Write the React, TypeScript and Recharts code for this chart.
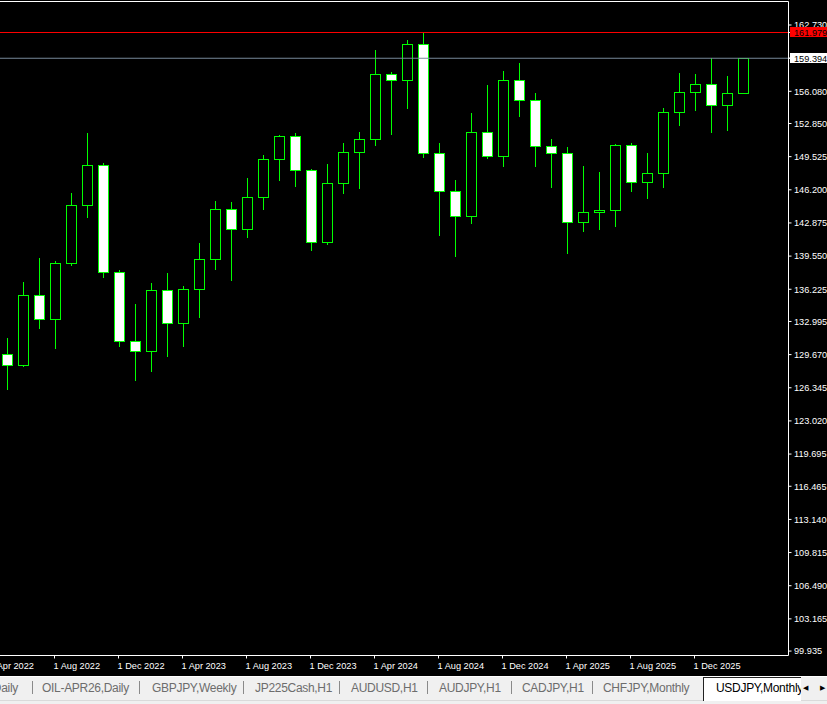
import React from 'react';
import { ComposedChart, Bar, XAxis, YAxis, ReferenceLine } from 'recharts';

// Monthly USDJPY candles (first slot is off-screen, only its date tick shows)
const months = [
  '1 Apr 2022', '1 May 2022', '1 Jun 2022', '1 Jul 2022', '1 Aug 2022', '1 Sep 2022', '1 Oct 2022', '1 Nov 2022', '1 Dec 2022',
  '1 Jan 2023', '1 Feb 2023', '1 Mar 2023', '1 Apr 2023', '1 May 2023', '1 Jun 2023', '1 Jul 2023', '1 Aug 2023', '1 Sep 2023', '1 Oct 2023', '1 Nov 2023', '1 Dec 2023',
  '1 Jan 2024', '1 Feb 2024', '1 Mar 2024', '1 Apr 2024', '1 May 2024', '1 Jun 2024', '1 Jul 2024', '1 Aug 2024', '1 Sep 2024', '1 Oct 2024', '1 Nov 2024', '1 Dec 2024',
  '1 Jan 2025', '1 Feb 2025', '1 Mar 2025', '1 Apr 2025', '1 May 2025', '1 Jun 2025', '1 Jul 2025', '1 Aug 2025', '1 Sep 2025', '1 Oct 2025', '1 Nov 2025', '1 Dec 2025',
  '1 Jan 2026', '1 Feb 2026', '1 Mar 2026',
];

const opens: (number | null)[] = [
  null, 129.70, 128.60, 135.65, 133.20, 138.90, 144.70, 148.72, 137.98,
  131.05, 130.05, 136.15, 132.80, 136.25, 139.28, 144.28, 142.25, 145.50, 149.30, 151.62, 148.18,
  140.98, 146.88, 149.95, 151.30, 157.78, 157.22, 160.82, 149.90, 146.08, 143.58, 151.98, 149.60,
  157.25, 155.18, 150.60, 149.88, 142.96, 143.95, 144.15, 150.66, 146.95, 147.88, 153.97, 156.05,
  156.80, 154.68, 155.95,
];
const highs: (number | null)[] = [
  null, 131.31, 136.92, 139.36, 139.03, 145.88, 151.87, 148.85, 138.16,
  134.75, 136.85, 137.85, 136.55, 140.85, 145.05, 144.95, 147.38, 149.69, 151.70, 151.90, 148.25,
  148.79, 150.86, 151.97, 160.19, 158.00, 161.20, 161.93, 150.86, 147.15, 153.87, 156.68, 158.10,
  158.92, 155.88, 151.27, 150.46, 148.59, 147.98, 150.80, 150.86, 149.86, 154.37, 157.92, 157.82,
  159.39, 157.58, 159.394,
];
const lows: (number | null)[] = [
  null, 126.25, 128.50, 132.37, 130.30, 138.66, 143.45, 137.45, 130.50,
  127.15, 128.00, 129.58, 130.50, 133.40, 138.30, 137.20, 141.45, 144.30, 147.20, 146.62, 140.20,
  140.75, 145.83, 146.43, 150.72, 151.75, 154.45, 149.52, 141.62, 139.52, 142.92, 149.42, 148.55,
  153.65, 148.55, 146.45, 139.82, 142.02, 142.30, 142.60, 146.11, 145.41, 146.51, 152.73, 154.23,
  152.03, 152.23, 155.95,
];
const closes: (number | null)[] = [
  null, 128.60, 135.65, 133.20, 138.90, 144.70, 148.72, 137.98, 131.05,
  130.05, 136.15, 132.80, 136.25, 139.28, 144.28, 142.25, 145.50, 149.30, 151.62, 148.18, 140.98,
  146.88, 149.95, 151.30, 157.78, 157.22, 160.82, 149.90, 146.08, 143.58, 151.98, 149.60, 157.25,
  155.18, 150.60, 149.88, 142.96, 143.95, 144.15, 150.66, 146.95, 147.88, 153.97, 156.05, 156.80,
  154.68, 155.95, 159.394,
];

const dateTicks = [
  '1 Apr 2022', '1 Aug 2022', '1 Dec 2022', '1 Apr 2023', '1 Aug 2023', '1 Dec 2023',
  '1 Apr 2024', '1 Aug 2024', '1 Dec 2024', '1 Apr 2025', '1 Aug 2025', '1 Dec 2025',
];
const priceTicks = [
  99.935, 103.165, 106.49, 109.815, 113.14, 116.465, 119.695, 123.02, 126.345, 129.67,
  132.995, 136.225, 139.55, 142.875, 146.2, 149.525, 152.85, 156.08, 159.405, 162.73,
];
const priceDomain: [number, number] = [99.49, 165.087];
const askLevel = 161.979;
const bidLevel = 159.394;

const otherTabs = [
  { label: 'OIL-APR26,Daily', left: 42 },
  { label: 'GBPJPY,Weekly', left: 152 },
  { label: 'JP225Cash,H1', left: 255 },
  { label: 'AUDUSD,H1', left: 351 },
  { label: 'AUDJPY,H1', left: 439 },
  { label: 'CADJPY,H1', left: 522 },
  { label: 'CHFJPY,Monthly', left: 603 },
];
const separators = [32, 139, 243, 339, 427, 511, 592];
const activeTab = 'USDJPY,Monthly';

const data = months.map((m, i) => ({
  date: m,
  o: opens[i],
  h: highs[i],
  l: lows[i],
  c: closes[i],
  range: opens[i] == null ? null : [lows[i], highs[i]],
}));

// level boxes come last so they are painted over the regular price labels
const axisTicks = [...priceTicks, bidLevel, askLevel];

const GREEN = '#00ff00';
const FONT = '"Liberation Sans", Arial, sans-serif';

const Candle = (props: any) => {
  const { x, y, width, height, payload } = props;
  if (!payload || payload.o == null || !isFinite(y) || !isFinite(height)) return null;
  const { o, h, l, c } = payload;
  const top = Math.min(y, y + height);
  const bot = Math.max(y, y + height);
  const span = h - l;
  const yOf = (v: number) => (span === 0 ? top : top + ((h - v) / span) * (bot - top));
  const cx = Math.floor(x + width / 2) + 0.5;
  const wTop = Math.round(yOf(h));
  const wBot = Math.round(yOf(l));
  const bTop = Math.round(yOf(Math.max(o, c)));
  const bBot = Math.round(yOf(Math.min(o, c)));
  const bull = c >= o;
  return (
    <g>
      <line x1={cx} x2={cx} y1={wTop} y2={wBot + 1} stroke={GREEN} strokeWidth={1} />
      {bBot - bTop >= 1 ? (
        <rect x={cx - 5} y={bTop + 0.5} width={10} height={bBot - bTop} fill={bull ? '#000' : '#fff'} stroke={GREEN} strokeWidth={1} />
      ) : (
        <line x1={cx - 5} x2={cx + 6} y1={bTop + 0.5} y2={bTop + 0.5} stroke={GREEN} strokeWidth={1} />
      )}
    </g>
  );
};

const DateTick = (props: any) => {
  const { x, y, payload } = props;
  return (
    <text x={x - 1} y={y + 8} fill="#ffffff" fontSize={9.2} fontFamily={FONT} textAnchor="start">
      {payload.value}
    </text>
  );
};

const PriceTick = (props: any) => {
  const { x, y, payload } = props;
  const v = Number(payload.value);
  const label = v.toFixed(3);
  if (v === askLevel || v === bidLevel) {
    return (
      <g>
        <rect x={x - 3.5} y={Math.round(y) - 5} width={40} height={10} fill={v === askLevel ? '#ff0000' : '#ffffff'} />
        <text x={x + 0.5} y={y + 3.3} fill="#000000" fontSize={9.2} fontFamily={FONT} textAnchor="start">
          {label}
        </text>
      </g>
    );
  }
  return (
    <text x={x + 0.5} y={y + 3.3} fill="#ffffff" fontSize={9.2} fontFamily={FONT} textAnchor="start">
      {label}
    </text>
  );
};

export default function App() {
  return (
    <div style={{ position: 'absolute', left: 0, top: 0, width: 827, height: 704, background: '#f0f0f0', overflow: 'hidden' }}>
      <div style={{ position: 'absolute', left: 0, top: 0, width: 827, height: 676, background: '#000', overflow: 'hidden' }}>
        <ComposedChart
          width={827}
          height={676}
          data={data}
          margin={{ top: 1.5, right: 0, bottom: 0, left: -18 }}
          style={{ background: '#000' }}
        >
          <XAxis
            dataKey="date"
            type="category"
            ticks={dateTicks}
            interval={0}
            height={20.5}
            padding={{ left: 0.5, right: 38 }}
            axisLine={{ stroke: '#ffffff', strokeWidth: 1 }}
            tickLine={{ stroke: '#ffffff' }}
            tickSize={3}
            tickMargin={2}
            tick={<DateTick />}
          />
          <YAxis
            orientation="right"
            type="number"
            domain={priceDomain}
            allowDataOverflow
            ticks={axisTicks}
            interval={0}
            width={38.5}
            axisLine={{ stroke: '#ffffff', strokeWidth: 1 }}
            tickLine={{ stroke: '#ffffff' }}
            tickSize={3}
            tickMargin={2}
            tick={<PriceTick />}
          />
          <ReferenceLine y={priceDomain[1]} stroke="#ffffff" strokeWidth={1} ifOverflow="visible" />
          <ReferenceLine y={bidLevel} stroke="#778899" strokeWidth={1} />
          <ReferenceLine y={askLevel} stroke="#ff0000" strokeWidth={1} />
          <Bar dataKey="range" barSize={11} shape={Candle} isAnimationActive={false} />
        </ComposedChart>
      </div>
      {/* terminal tab bar */}
      <div style={{ position: 'absolute', left: 0, top: 676, width: 827, height: 1, background: '#ffffff' }} />
      <div style={{ position: 'absolute', left: 0, top: 700, width: 827, height: 1, background: '#dadada' }} />
      <div style={{ position: 'absolute', right: 809, top: 680, fontFamily: FONT, fontSize: 12, letterSpacing: -0.3, color: '#6d6d6d', lineHeight: '16px', whiteSpace: 'nowrap' }}>
        Daily
      </div>
      {separators.map((s) => (
        <div key={s} style={{ position: 'absolute', left: s, top: 681, width: 1, height: 13, background: '#8a8a8a' }} />
      ))}
      {otherTabs.map((t) => (
        <div key={t.label} style={{ position: 'absolute', left: t.left, top: 680, fontFamily: FONT, fontSize: 12, letterSpacing: -0.3, color: '#6d6d6d', lineHeight: '16px', whiteSpace: 'nowrap' }}>
          {t.label}
        </div>
      ))}
      <div style={{ position: 'absolute', left: 703, top: 677, width: 97, height: 23, background: '#ffffff', borderLeft: '1px solid #222', borderTop: '1px solid #222', overflow: 'hidden' }}>
        <div style={{ position: 'absolute', left: 12, top: 2, fontFamily: FONT, fontSize: 12, letterSpacing: -0.3, color: '#000', lineHeight: '16px', whiteSpace: 'nowrap' }}>
          {activeTab}
        </div>
      </div>
      <div style={{ position: 'absolute', left: 801, top: 677, width: 26, height: 23, background: '#f0f0f0' }} />
      <div style={{ position: 'absolute', left: 803, top: 683, fontFamily: '"DejaVu Sans", sans-serif', fontSize: 7, color: '#000', lineHeight: '10px' }}>◀</div>
      <div style={{ position: 'absolute', left: 820, top: 683, fontFamily: '"DejaVu Sans", sans-serif', fontSize: 7, color: '#000', lineHeight: '10px' }}>▶</div>
    </div>
  );
}
